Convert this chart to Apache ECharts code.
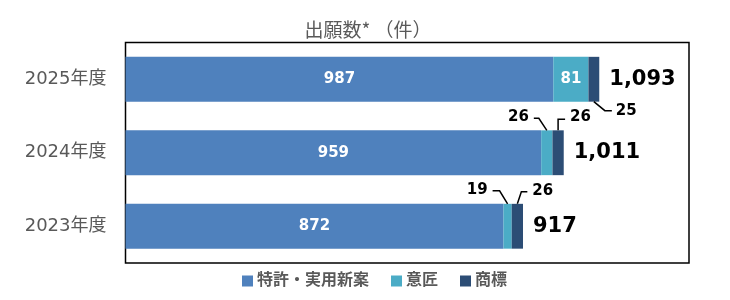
<!DOCTYPE html>
<html>
<head>
<meta charset="utf-8">
<script src="https://cdn.jsdelivr.net/npm/echarts@6/dist/echarts.min.js"></script>
<style>
html, body { margin: 0; padding: 0; background: #fff; }
#main { width: 730px; height: 300px; }
</style>
</head>
<body>
<div id="main"></div>
<script>
// 年度
var years = ['2023年度', '2024年度', '2025年度'];
// 出願数
var patent = [872, 959, 987];      // 特許・実用新案
var design = [19, 26, 81];         // 意匠
var trademark = [26, 26, 25];      // 商標
var seriesNames = ['特許・実用新案', '意匠', '商標'];

var colors = ['#4F81BD', '#4BACC6', '#2C4D75'];
var font = '"DejaVu Sans", "Noto Sans CJK JP", sans-serif';

// 引出線ラベル (年度index, 系列)
var leaderItems = [
	{ cat : 2, s : 'trademark' },
	{ cat : 1, s : 'design' },
	{ cat : 1, s : 'trademark' },
	{ cat : 0, s : 'design' },
	{ cat : 0, s : 'trademark' }
];
// 引出線の形 (バー端からの相対位置)
var leaderLayout = [
	{ edge : 'bottom', pts : [ [0, 0], [11, 9], [18, 9] ], tx : 22, ty : 9, align : 'left' },
	{ edge : 'top', pts : [ [0, 0], [-8, -12], [-13, -12] ], tx : -18, ty : -13, align : 'right' },
	{ edge : 'top', pts : [ [0, 0], [0, -11], [7, -11] ], tx : 12, ty : -13, align : 'left' },
	{ edge : 'top', pts : [ [0, 0], [-8, -13], [-15, -13] ], tx : -20, ty : -14, align : 'right' },
	{ edge : 'top', pts : [ [0, 0], [4, -12], [10, -12] ], tx : 15, ty : -13, align : 'left' }
];

var totals = [];
for (var i = 0; i < years.length; i++) {
	totals.push(patent[i] + design[i] + trademark[i]);
}

var leaderData = [];
for (var k = 0; k < leaderItems.length; k++) {
	var it = leaderItems[k];
	var c = it.cat;
	var mid, val;
	if (it.s === 'design') {
		mid = patent[c] + design[c] / 2;
		val = design[c];
	} else {
		mid = patent[c] + design[c] + trademark[c] / 2;
		val = trademark[c];
	}
	leaderData.push([ mid, c, val ]);
}

var barRatio = 0.61;

function renderLeader(params, api) {
	var p = api.coord([ api.value(0), api.value(1) ]);
	var half = api.size([ 0, 1 ])[1] * barRatio / 2;
	var L = leaderLayout[params.dataIndex];
	var ax = p[0];
	var ay = L.edge === 'top' ? p[1] - half : p[1] + half;
	var pts = [];
	for (var j = 0; j < L.pts.length; j++) {
		pts.push([ ax + L.pts[j][0], ay + L.pts[j][1] ]);
	}
	return {
		type : 'group',
		children : [ {
			type : 'polyline',
			shape : { points : pts },
			style : { stroke : '#000', lineWidth : 1.5, fill : null }
		}, {
			type : 'text',
			style : {
				text : String(api.value(2)),
				x : ax + L.tx,
				y : ay + L.ty,
				align : L.align,
				verticalAlign : 'middle',
				fontSize : 15,
				fontWeight : 'bold',
				fontFamily : font,
				fill : '#000'
			}
		} ]
	};
}

var myChart = echarts.init(document.getElementById('main'));
var option = {
	animation : false,
	color : colors,
	title : {
		text : '出願数* （件）',
		left : 363,
		textAlign : 'center',
		top : 15,
		textStyle : {
			color : '#595959',
			fontSize : 19,
			fontWeight : 'normal',
			fontFamily : '"Noto Sans CJK JP", sans-serif'
		}
	},
	legend : {
		data : seriesNames,
		left : 237,
		top : 268,
		itemWidth : 11,
		itemHeight : 11,
		itemGap : 22,
		icon : 'rect',
		textStyle : {
			color : '#595959',
			fontSize : 16,
			fontWeight : 'bold',
			fontFamily : font,
			padding : [ 0, 0, 0, -1 ]
		}
	},
	grid : {
		left : 125.5,
		right : 41,
		top : 42.5,
		bottom : 37,
		show : true,
		borderColor : '#000',
		borderWidth : 1.5,
		containLabel : false
	},
	xAxis : {
		type : 'value',
		min : 0,
		max : 1300,
		show : false
	},
	yAxis : {
		type : 'category',
		data : years,
		axisLine : { show : false },
		axisTick : { show : false },
		axisLabel : {
			margin : 19,
			color : '#595959',
			fontSize : 18,
			fontFamily : font
		}
	},
	series : [ {
		name : seriesNames[0],
		type : 'bar',
		stack : 'total',
		barWidth : '61%',
		data : patent,
		label : {
			show : true,
			position : 'inside',
			color : '#fff',
			fontSize : 15,
			fontWeight : 'bold',
			fontFamily : font
		}
	}, {
		name : seriesNames[1],
		type : 'bar',
		stack : 'total',
		data : design.map(function(v) {
			return { value : v, label : { show : v >= 50 } };
		}),
		label : {
			position : 'inside',
			color : '#fff',
			fontSize : 15,
			fontWeight : 'bold',
			fontFamily : font
		}
	}, {
		name : seriesNames[2],
		type : 'bar',
		stack : 'total',
		data : trademark,
		label : {
			show : true,
			position : 'right',
			distance : 10,
			color : '#000',
			fontSize : 21,
			fontWeight : 'bold',
			fontFamily : font,
			formatter : function(p) {
				return totals[p.dataIndex].toLocaleString('en-US');
			}
		}
	}, {
		type : 'custom',
		renderItem : renderLeader,
		data : leaderData,
		encode : { x : 0, y : 1 },
		clip : false,
		z : 5
	} ]
};
myChart.setOption(option);
</script>
</body>
</html>
